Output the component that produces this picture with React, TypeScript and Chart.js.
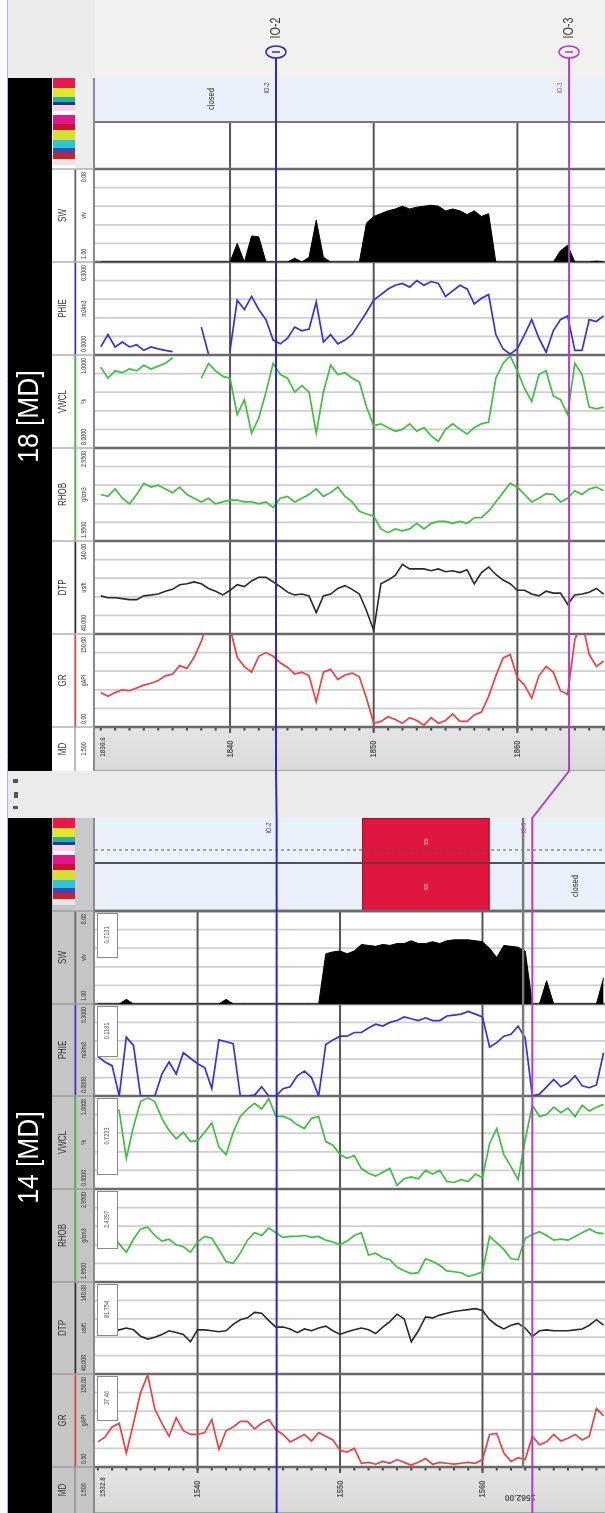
import React, { useEffect, useRef } from "react";
import { Chart, registerables } from "chart.js";

Chart.register(...registerables);

// ------------------------------------------------------------------ data
const DEPTH_18 = [
  1831, 1831.5, 1832, 1832.5, 1833, 1833.5, 1834, 1834.5, 1835, 1835.5,
  1836, 1836.5, 1837, 1837.5, 1838, 1838.5, 1839, 1839.5, 1840, 1840.5,
  1841, 1841.5, 1842, 1842.5, 1843, 1843.5, 1844, 1844.5, 1845, 1845.5,
  1846, 1846.5, 1847, 1847.5, 1848, 1848.5, 1849, 1849.5, 1850, 1850.5,
  1851, 1851.5, 1852, 1852.5, 1853, 1853.5, 1854, 1854.5, 1855, 1855.5,
  1856, 1856.5, 1857, 1857.5, 1858, 1858.5, 1859, 1859.5, 1860, 1860.5,
  1861, 1861.5, 1862, 1862.5, 1863, 1863.5, 1864, 1864.5, 1865, 1865.5,
  1866,
];
const GR_18 = [
  55.5, 49.5, 55.5, 60, 58.5, 63, 67.5, 70.5, 75, 82.5,
  85.5, 99, 94.5, 112.5, 138, 175, 180, 175, 160, 112.5,
  97.5, 88.5, 114, 120, 114, 103.5, 96, 85.5, 88.5, 82.5,
  40.5, 88.5, 93, 76.5, 84, 87, 81, 46.5, 6, 9,
  16.5, 12, 6, 15, 10.5, 3, 15, 6, 10.5, 21,
  9, 9, 19.5, 24, 49.5, 82.5, 111, 117, 79.5, 67.5,
  46.5, 82.5, 97.5, 88.5, 58.5, 52.5, 141, 170, 117, 97.5,
  106.5,
];
const DTP_18 = [
  81, 79, 79, 78, 77, 77, 81, 82, 83, 86,
  88, 93, 94, 96, 94, 89, 86, 82, 87, 93,
  91, 97, 101, 101, 96, 91, 85, 82, 83, 81,
  63, 81, 83, 89, 92, 88, 83, 65, 44, 94,
  98, 103, 115, 110, 110, 110, 108, 110, 107, 108,
  106, 109, 94, 106, 112, 104, 98, 94, 87, 87,
  83, 81, 86, 84, 84, 72, 82, 83, 85, 89,
  83,
];
const RHOB_18 = [
  2.45, 2.43, 2.51, 2.41, 2.35, 2.45, 2.57, 2.53, 2.55, 2.51,
  2.47, 2.53, 2.45, 2.41, 2.37, 2.41, 2.35, 2.37, 2.39, 2.39,
  2.37, 2.37, 2.35, 2.37, 2.31, 2.41, 2.43, 2.37, 2.41, 2.45,
  2.51, 2.43, 2.47, 2.53, 2.43, 2.37, 2.27, 2.24, 2.22, 2.08,
  2.04, 2.08, 2.06, 2.08, 2.14, 2.08, 2.14, 2.16, 2.16, 2.14,
  2.16, 2.14, 2.2, 2.2, 2.27, 2.37, 2.47, 2.57, 2.53, 2.45,
  2.37, 2.41, 2.46, 2.45, 2.37, 2.41, 2.49, 2.45, 2.51, 2.53,
  2.49,
];
const VWCL_18 = [
  0.87, 0.75, 0.83, 0.81, 0.85, 0.83, 0.89, 0.85, 0.88, 0.91,
  0.97, null, null, null, 0.75, 0.91, 0.83, 0.77, 0.75, 0.36,
  0.52, 0.16, 0.32, 0.6, 0.91, 0.79, 0.75, 0.6, 0.67, 0.6,
  0.16, 0.6, 0.89, 0.79, 0.81, 0.75, 0.71, 0.44, 0.24, 0.26,
  0.22, 0.18, 0.2, 0.26, 0.18, 0.22, 0.13, 0.07, 0.2, 0.26,
  0.2, 0.15, 0.22, 0.26, 0.28, 0.75, 0.91, 0.99, 0.83, 0.64,
  0.5, 0.79, 0.83, 0.56, 0.52, 0.36, 0.91, 0.79, 0.44, 0.42,
  0.44,
];
const PHIE_18 = [
  0.026, 0.066, 0.026, 0.042, 0.026, 0.033, 0.015, 0.026, 0.02, 0.015,
  0.011, null, null, null, 0.09, 0.003, null, null, 0.015, 0.177,
  0.147, 0.189, 0.147, 0.114, 0.048, 0.036, 0.054, 0.09, 0.078, 0.084,
  0.171, 0.042, 0.066, 0.036, 0.048, 0.066, 0.102, 0.138, 0.177, 0.195,
  0.213, 0.225, 0.231, 0.219, 0.24, 0.225, 0.237, 0.231, 0.189, 0.207,
  0.225, 0.213, 0.165, 0.183, 0.195, 0.066, 0.02, 0.003, 0.02, 0.066,
  0.114, 0.054, 0.009, 0.078, 0.114, 0.126, 0.015, 0.015, 0.114, 0.108,
  0.126,
];
const SW_18 = [
  1, 1, 1, 1, 1, 1, 1, 1, 1, 1,
  1, 1, 1, 1, 1, 1, 1, 1, 1, 0.8,
  1, 0.72, 0.73, 1, 1, 1, 1, 0.96, 1, 0.95,
  0.55, 0.95, 1, 1, 1, 1, 1, 0.58, 0.51, 0.48,
  0.45, 0.43, 0.4, 0.43, 0.41, 0.4, 0.39, 0.4, 0.45, 0.43,
  0.45, 0.49, 0.45, 0.51, 0.48, 1, 1, 1, 1, 1,
  1, 1, 1, 1, 0.88, 0.82, 1, 1, 1, 0.99,
  1,
];

const DEPTH_14 = [
  1533, 1533.5, 1534, 1534.5, 1535, 1535.5, 1536, 1536.5, 1537, 1537.5,
  1538, 1538.5, 1539, 1539.5, 1540, 1540.5, 1541, 1541.5, 1542, 1542.5,
  1543, 1543.5, 1544, 1544.5, 1545, 1545.5, 1546, 1546.5, 1547, 1547.5,
  1548, 1548.5, 1549, 1549.5, 1550, 1550.5, 1551, 1551.5, 1552, 1552.5,
  1553, 1553.5, 1554, 1554.5, 1555, 1555.5, 1556, 1556.5, 1557, 1557.5,
  1558, 1558.5, 1559, 1559.5, 1560, 1560.5, 1561, 1561.5, 1562, 1562.5,
  1563, 1563.5, 1564, 1564.5, 1565, 1565.5, 1566, 1566.5, 1567, 1567.5,
  1568, 1568.5,
];
const GR_14 = [
  40.5, 48, 64.5, 70.5, 22.5, 70.5, 120, 148.5, 93, 70.5,
  49.5, 79.5, 58.5, 52.5, 52.5, 55.5, 76.5, 28.5, 58.5, 64.5,
  73.5, 73.5, 61.5, 70.5, 76.5, 60, 52.5, 40.5, 46.5, 52.5,
  42, 55.5, 49.5, 43.5, 27, 24, 30, 6, 7.5, 4.5,
  9, 6, 12, 7.5, 3, 7.5, 13.5, 4.5, 7.5, 6,
  4.5, 6, 7.5, 6, 12, 52.5, 54, 22.5, 9, 15,
  12, 49.5, 36, 40.5, 52.5, 42, 46.5, 52.5, 43.5, 49.5,
  94.5, 82.5,
];
const DTP_14 = [
  89, 89, 88, 88, 90, 88, 81, 78, 80, 83,
  87, 85, 83, 75, 88, 88, 87, 86, 87, 94,
  99, 101, 107, 106, 98, 91, 91, 89, 85, 89,
  87, 90, 92, 87, 83, 86, 88, 90, 88, 84,
  91, 97, 105, 100, 75, 87, 102, 101, 104, 106,
  108, 109, 110, 111, 109, 99, 93, 89, 93, 95,
  90, 81, 87, 88, 87, 87, 87, 88, 89, 93,
  99, 93,
];
const RHOB_14 = [
  2.5, 2.49, 2.47, 2.36, 2.27, 2.41, 2.52, 2.54, 2.45, 2.39,
  2.41, 2.35, 2.33, 2.27, 2.38, 2.44, 2.42, 2.3, 2.17, 2.15,
  2.26, 2.4, 2.48, 2.45, 2.53, 2.48, 2.43, 2.44, 2.44, 2.45,
  2.43, 2.44, 2.4, 2.38, 2.35, 2.39, 2.45, 2.48, 2.24, 2.26,
  2.21, 2.19, 2.11, 2.07, 2.04, 2.05, 2.2, 2.17, 2.13, 2.07,
  2.06, 2.05, 2.01, 2.03, 2.06, 2.44, 2.37, 2.3, 2.2, 2.19,
  2.42, 2.46, 2.49, 2.45, 2.4, 2.41, 2.4, 2.44, 2.48, 2.52,
  2.48, 2.47,
];
const VWCL_14 = [
  0.92, 0.92, 0.9, 0.84, 0.33, 0.67, 0.94, 0.98, 0.94, 0.76,
  0.63, 0.54, 0.61, 0.51, 0.52, 0.61, 0.71, 0.45, 0.37, 0.61,
  0.78, 0.86, 0.92, 0.86, 0.97, 0.78, 0.78, 0.75, 0.69, 0.65,
  0.76, 0.78, 0.51, 0.47, 0.37, 0.33, 0.36, 0.22, 0.17, 0.14,
  0.18, 0.22, 0.04, 0.11, 0.13, 0.11, 0.2, 0.16, 0.2, 0.08,
  0.07, 0.1, 0.08, 0.16, 0.12, 0.49, 0.65, 0.37, 0.24, 0.1,
  0.53, 0.9, 0.78, 0.8, 0.88, 0.82, 0.87, 0.78, 0.9, 0.84,
  0.88, 0.91,
];
const PHIE_14 = [
  0.129, 0.111, 0.099, 0, 0.192, 0.165, 0, 0, 0, 0.072,
  0.111, 0.072, 0.141, 0.123, 0.105, 0.093, 0.024, 0.183, 0.177, 0.171,
  0, 0, 0.003, 0.03, 0, 0, 0.024, 0.03, 0.066, 0.081,
  0.06, 0, 0.168, 0.183, 0.195, 0.195, 0.207, 0.207, 0.222, 0.234,
  0.228, 0.24, 0.246, 0.258, 0.252, 0.246, 0.255, 0.246, 0.246, 0.261,
  0.264, 0.267, 0.276, 0.267, 0.258, 0.159, 0.174, 0.195, 0.201, 0.228,
  0.189, 0, 0.006, 0.03, 0.054, 0.03, 0.042, 0.066, 0.033, 0.027,
  0.036, 0.141,
];
const SW_14 = [
  1, 1, 1, 1, 0.95, 1, 1, 1, 1, 1,
  1, 1, 1, 1, 1, 1, 1, 1, 0.95, 1,
  1, 1, 1, 1, 1, 1, 1, 1, 1, 1,
  1, 1, 0.46, 0.44, 0.43, 0.46, 0.43, 0.36, 0.37, 0.38,
  0.36, 0.37, 0.35, 0.35, 0.32, 0.35, 0.35, 0.33, 0.35, 0.32,
  0.31, 0.31, 0.31, 0.32, 0.33, 0.4, 0.5, 0.37, 0.38, 0.39,
  0.43, 1, 1, 0.75, 1, 1, 1, 1, 1, 1,
  1, 0.72,
];

// depth tick labels (10 m) and view tops
const MD_TICKS_18 = [1840, 1850, 1860];
const MD_TICKS_14 = [1540, 1550, 1560];
const VIEW_TOP_LABEL_18 = "1830.6";
const VIEW_TOP_LABEL_14 = "1532.8";

// correlation tops
const TOP_NAMES = ["IO-2", "IO-3"];
const TOP_DEPTH_18 = [1843.2, 1863.6];
const TOP_DEPTH_14 = [1545.55, 1563.5];

// zones / flags
const ZONE_TOP_14 = [1551.55];
const ZONE_BASE_14 = [1560.5];
const ZONE_LABEL_14 = ["ss"];
const CLOSED_DEPTH_18 = 1838.7;
const CLOSED_DEPTH_14 = 1566.5;
const MARK_DEPTH_14 = 1562.85;
const MARK_LABEL_14 = "1562.00";

// readout values shown in well 14 boxes
const READOUT_14 = ["0.7131", "0.1181", "0.7233", "2.4397", "81.754", "37.46"];

// ------------------------------------------------------------------ styling / layout
const CANVAS_W = 605;
const CANVAS_H = 1513;
const PLOT_L = 95;
const PLOT_R = 605;
const FONT = '"Liberation Sans", Arial, sans-serif';

type Curve = {
  name: string; color: string; width: number; min: number; max: number;
  reverse?: boolean; lo: string; unit: string; hi: string;
};
const CURVES: Curve[] = [
  { name: "SW", color: "#000000", width: 1, min: 0, max: 1, reverse: true, lo: "1.00", unit: "v/v", hi: "0.00" },
  { name: "PHIE", color: "#3333dd", width: 1.7, min: 0, max: 0.3, lo: "0.0000", unit: "m3/m3", hi: "0.3000" },
  { name: "VWCL", color: "#3fbf3f", width: 1.7, min: 0, max: 1, lo: "0.0000", unit: "%", hi: "1.0000" },
  { name: "RHOB", color: "#3fbf3f", width: 1.7, min: 1.95, max: 2.95, lo: "1.9500", unit: "g/cm3", hi: "2.9500" },
  { name: "DTP", color: "#2a2a2a", width: 1.6, min: 40, max: 140, lo: "40.000", unit: "us/ft", hi: "140.00" },
  { name: "GR", color: "#ee4040", width: 1.7, min: 0, max: 150, lo: "0.00", unit: "gAPI", hi: "150.00" },
];

type WellLayout = {
  key: string; title: string; barTop: number; barBottom: number;
  flag1: [number, number]; flag2: [number, number]; tracks: number[];
  md: [number, number]; gridTop: number; headerBg: string; flag2Bg: string;
  xMin: number; xMax: number; ticks: number[]; topLabel: string;
};
const WELLS: WellLayout[] = [
  {
    key: "w18", title: "18 [MD]", barTop: 78, barBottom: 771,
    flag1: [78, 122], flag2: [122, 169], tracks: [169, 262, 355, 448, 541, 634, 727],
    md: [727, 771], gridTop: 122, headerBg: "#ffffff", flag2Bg: "#ffffff",
    xMin: 1830.6, xMax: 1866.1, ticks: MD_TICKS_18, topLabel: VIEW_TOP_LABEL_18,
  },
  {
    key: "w14", title: "14 [MD]", barTop: 818, barBottom: 1513,
    flag1: [818, 863], flag2: [863, 911], tracks: [911, 1004, 1096, 1189, 1282, 1374, 1467],
    md: [1467, 1513], gridTop: 911, headerBg: "#c5c5c5", flag2Bg: "#eaf1fa",
    xMin: 1532.8, xMax: 1568.6, ticks: MD_TICKS_14, topLabel: VIEW_TOP_LABEL_14,
  },
];

const SERIES: Record<string, Record<string, (number | null)[]>> = {
  w18: { SW: SW_18, PHIE: PHIE_18, VWCL: VWCL_18, RHOB: RHOB_18, DTP: DTP_18, GR: GR_18 },
  w14: { SW: SW_14, PHIE: PHIE_14, VWCL: VWCL_14, RHOB: RHOB_14, DTP: DTP_14, GR: GR_14 },
};
const DEPTHS: Record<string, number[]> = { w18: DEPTH_18, w14: DEPTH_14 };

const COLOR_STRIP: [string, number][] = [
  ["#e8184a", 10], ["#e6e628", 9], ["#22b3a4", 5], ["#1a3a8a", 3], ["#f5d5e5", 6], ["#ffffff", 4],
  ["#e0168e", 9], ["#cc1030", 6], ["#d2e034", 10], ["#2ec4d6", 8], ["#2f4fc0", 5], ["#d02020", 6], ["#e6e6e6", 6],
];

const BLUE = "#2b2bb5";
const MAGENTA = "#b43cc8";
const TOP_COLORS = [BLUE, MAGENTA];

// scale bounds (pixel rows) for every track axis
const BOUNDS: Record<string, [number, number]> = {};
WELLS.forEach((w) => {
  CURVES.forEach((c, i) => {
    BOUNDS[`${w.key}_${c.name}`] = [w.tracks[i], w.tracks[i + 1]];
  });
});

// ------------------------------------------------------------------ drawing helpers
function rotText(
  ctx: CanvasRenderingContext2D, text: string, x: number, y: number,
  o: { size: number; color: string; bold?: boolean; squeeze?: number; align?: CanvasTextAlign; angle?: number }
) {
  ctx.save();
  ctx.translate(x, y);
  ctx.rotate(o.angle ?? -Math.PI / 2);
  ctx.scale(o.squeeze ?? 1, 1);
  ctx.font = `${o.bold ? "bold " : ""}${o.size}px ${FONT}`;
  ctx.fillStyle = o.color;
  ctx.textAlign = o.align ?? "center";
  ctx.textBaseline = "middle";
  ctx.fillText(text, 0, 0);
  ctx.restore();
}
function hline(ctx: CanvasRenderingContext2D, y: number, x0: number, x1: number, color: string, w: number, dash?: number[]) {
  ctx.save();
  ctx.strokeStyle = color;
  ctx.lineWidth = w;
  if (dash) ctx.setLineDash(dash);
  ctx.beginPath();
  ctx.moveTo(x0, y);
  ctx.lineTo(x1, y);
  ctx.stroke();
  ctx.restore();
}
function vline(ctx: CanvasRenderingContext2D, x: number, y0: number, y1: number, color: string, w: number) {
  ctx.save();
  ctx.strokeStyle = color;
  ctx.lineWidth = w;
  ctx.beginPath();
  ctx.moveTo(x, y0);
  ctx.lineTo(x, y1);
  ctx.stroke();
  ctx.restore();
}

const placeScales = {
  id: "placeScales",
  afterLayout(chart: any) {
    Object.keys(chart.scales).forEach((id) => {
      const s = chart.scales[id];
      if (s.isHorizontal()) {
        s.left = PLOT_L; s.right = PLOT_R; s.width = PLOT_R - PLOT_L;
        s.top = 0; s.bottom = 0; s.height = 0;
      } else {
        const b = BOUNDS[id];
        if (!b) return;
        s.top = b[0]; s.bottom = b[1]; s.height = b[1] - b[0];
        s.left = PLOT_L; s.right = PLOT_L; s.width = 0;
      }
      s.configure();
    });
  },
};

const decorations = {
  id: "decorations",
  beforeDatasetsDraw(chart: any) {
    const ctx: CanvasRenderingContext2D = chart.ctx;
    ctx.save();
    // page background
    ctx.fillStyle = "#efefef";
    ctx.fillRect(0, 0, CANVAS_W, CANVAS_H);
    ctx.fillStyle = "#fbfbfb";
    ctx.fillRect(0, 0, 8, CANVAS_H);
    vline(ctx, 7.5, 0, CANVAS_H, "#a9b5c9", 1);
    // top band
    ctx.fillStyle = "#f2f1ef";
    ctx.fillRect(PLOT_L, 0, PLOT_R - PLOT_L, 78);
    ctx.fillStyle = "#ececec";
    ctx.fillRect(8, 0, PLOT_L - 8, 78);
    // gap between wells
    ctx.fillStyle = "#ebebeb";
    ctx.fillRect(8, 771, CANVAS_W - 8, 47);
    ctx.fillStyle = "#555";
    ctx.fillRect(13, 779, 5, 4);
    ctx.fillRect(14, 792, 4, 6);
    ctx.fillRect(13, 806, 5, 3);

    WELLS.forEach((w) => {
      const xs = chart.scales[`x_${w.key}`];
      // black title bar
      ctx.fillStyle = "#000";
      ctx.fillRect(8, w.barTop, 44, w.barBottom - w.barTop);
      rotText(ctx, w.title, 30, (w.barTop + w.barBottom) / 2 - 8, { size: 30, color: "#fff", squeeze: 0.88 });
      // header columns
      ctx.fillStyle = w.headerBg;
      ctx.fillRect(52, w.barTop, PLOT_L - 52, w.barBottom - w.barTop);
      ctx.fillStyle = w.key === "w18" ? "#eeeeee" : "#c9c9c9";
      ctx.fillRect(75, w.barTop, 18, w.flag2[1] - w.barTop);
      let yy = w.barTop;
      COLOR_STRIP.forEach(([c, h]) => {
        ctx.fillStyle = c;
        ctx.fillRect(53, yy, 22, h);
        yy += h;
      });
      vline(ctx, 94, w.barTop, w.barBottom, "#8a8a8a", 2);
      vline(ctx, 75, w.flag2[1], w.barBottom, "#777", 1);
      // flags
      ctx.fillStyle = "#eaf1fa";
      ctx.fillRect(PLOT_L, w.flag1[0], PLOT_R - PLOT_L, w.flag1[1] - w.flag1[0]);
      ctx.fillStyle = w.flag2Bg;
      ctx.fillRect(PLOT_L, w.flag2[0], PLOT_R - PLOT_L, w.flag2[1] - w.flag2[0]);
      // log tracks
      ctx.fillStyle = "#ffffff";
      ctx.fillRect(PLOT_L, w.tracks[0], PLOT_R - PLOT_L, w.tracks[6] - w.tracks[0]);
      CURVES.forEach((c, i) => {
        const t = w.tracks[i];
        const b = w.tracks[i + 1];
        for (let k = 1; k < 5; k++) {
          const y = t + ((b - t) * k) / 5;
          hline(ctx, y, PLOT_L, PLOT_R, "#cfcfcf", 1.8);
        }
        // header text
        const mid = (t + b) / 2;
        rotText(ctx, c.name, 63, mid, { size: 10, color: "#333", squeeze: 0.8 });
        rotText(ctx, c.lo, 84, b - 3, { size: 7, color: "#333", squeeze: 0.75, align: "left" });
        rotText(ctx, c.unit, 84, mid, { size: 7, color: "#333", squeeze: 0.75 });
        rotText(ctx, c.hi, 84, t + 3, { size: 7, color: "#333", squeeze: 0.75, align: "right" });
        vline(ctx, 75.5, t + 1, b - 1, c.color === "#000000" ? "#666" : c.color, 1.5);
        hline(ctx, t, 52, PLOT_L, "#8a8a8a", 1);
      });
      // MD track
      const [m0, m1] = w.md;
      const g = ctx.createLinearGradient(0, m0, 0, m1);
      g.addColorStop(0, "#e4e4e4");
      g.addColorStop(1, "#d9d9d9");
      ctx.fillStyle = g;
      ctx.fillRect(PLOT_L, m0, PLOT_R - PLOT_L, m1 - m0);
      hline(ctx, m0, 52, PLOT_L, "#8a8a8a", 1);
      rotText(ctx, "MD", 63, (m0 + m1) / 2, { size: 10, color: "#333", squeeze: 0.8 });
      rotText(ctx, "1:500", 84, (m0 + m1) / 2, { size: 7, color: "#333", squeeze: 0.75 });
      for (let d = Math.ceil(w.xMin); d <= w.xMax; d++) {
        const x = xs.getPixelForValue(d);
        ctx.fillStyle = "#444";
        ctx.fillRect(x - 1, m0 + 1, 2, 2.5);
      }
      w.ticks.forEach((d) => {
        const x = xs.getPixelForValue(d);
        vline(ctx, x, w.gridTop, m0 + 6, "#555", 2);
        rotText(ctx, String(d), x, m0 + 22, { size: 9, color: "#555", bold: true, squeeze: 0.85 });
      });
      rotText(ctx, w.topLabel, PLOT_L + 8, m0 + 20, { size: 8, color: "#555", bold: true, squeeze: 0.8 });
      hline(ctx, m1 - 0.5, PLOT_L, PLOT_R, "#9aa", 1);
      // track boundaries
      hline(ctx, w.flag1[1], PLOT_L, PLOT_R, "#7a7a7a", 2.2);
      w.tracks.forEach((y) => hline(ctx, y, PLOT_L, PLOT_R, "#6a6a6a", 2.4));
    });
    ctx.restore();
  },
  afterDatasetsDraw(chart: any) {
    const ctx: CanvasRenderingContext2D = chart.ctx;
    const x18 = chart.scales.x_w18;
    const x14 = chart.scales.x_w14;
    ctx.save();
    const w14 = WELLS[1];

    // well 14 zone box
    ZONE_TOP_14.forEach((d0, i) => {
      const a = x14.getPixelForValue(d0);
      const b = x14.getPixelForValue(ZONE_BASE_14[i]);
      ctx.fillStyle = "#e0163e";
      ctx.fillRect(a, w14.flag1[0], b - a, w14.flag2[1] - w14.flag1[0]);
      ctx.strokeStyle = "#a01028";
      ctx.lineWidth = 1;
      ctx.strokeRect(a + 0.5, w14.flag1[0] + 0.5, b - a - 1, w14.flag2[1] - w14.flag1[0] - 1);
      rotText(ctx, ZONE_LABEL_14[i], (a + b) / 2, 842, { size: 8, color: "#f6c6d0", squeeze: 0.9 });
      rotText(ctx, ZONE_LABEL_14[i], (a + b) / 2, 887, { size: 8, color: "#f6c6d0", squeeze: 0.9 });
    });
    hline(ctx, 850, PLOT_L, PLOT_R, "#555", 1, [3, 3]);
    hline(ctx, w14.flag1[1], PLOT_L, PLOT_R, "#444", 1.6);
    hline(ctx, w14.flag2[1], PLOT_L, PLOT_R, "#6a6a6a", 2.4);

    // marker line in well 14
    const xm = x14.getPixelForValue(MARK_DEPTH_14);
    vline(ctx, xm, w14.flag1[0], w14.md[0], "#7a7a7a", 2.4);
    rotText(ctx, MARK_LABEL_14, xm - 3, 1497, { size: 9, color: "#555", bold: true, angle: Math.PI, squeeze: 0.95 });

    // closed labels
    rotText(ctx, "closed", x18.getPixelForValue(CLOSED_DEPTH_18), 99, { size: 9, color: "#222", squeeze: 0.85 });
    rotText(ctx, "closed", x14.getPixelForValue(CLOSED_DEPTH_14), 886, { size: 9, color: "#222", squeeze: 0.85 });

    // readout boxes well 14
    CURVES.forEach((c, i) => {
      const t = w14.tracks[i];
      const h = [44, 50, 76, 57, 51, 44][i];
      ctx.fillStyle = "#ffffff";
      ctx.fillRect(97, t + 2, 20, h);
      ctx.strokeStyle = "#8a8a8a";
      ctx.lineWidth = 1;
      ctx.strokeRect(97.5, t + 2.5, 20, h);
      rotText(ctx, READOUT_14[i], 107, t + 2 + h / 2, { size: 7, color: "#555", squeeze: 0.8 });
    });

    // correlation lines
    TOP_NAMES.forEach((name, i) => {
      const col = TOP_COLORS[i];
      const xa = x18.getPixelForValue(TOP_DEPTH_18[i]);
      const xb = x14.getPixelForValue(TOP_DEPTH_14[i]);
      ctx.strokeStyle = col;
      ctx.lineWidth = 2;
      ctx.beginPath();
      ctx.moveTo(xa, 58);
      ctx.lineTo(xa, 771);
      ctx.lineTo(xb, 818);
      ctx.lineTo(xb, CANVAS_H);
      ctx.stroke();
      // header marker
      ctx.lineWidth = 1.5;
      ctx.beginPath();
      ctx.ellipse(xa, 52, 10, 6, 0, 0, Math.PI * 2);
      ctx.stroke();
      ctx.beginPath();
      ctx.moveTo(xa - 4, 52);
      ctx.lineTo(xa + 4, 52);
      ctx.stroke();
      rotText(ctx, name, xa, 28, { size: 15, color: "#3a3a3a", squeeze: 0.72 });
      rotText(ctx, name, xa - 9, 88, { size: 7, color: col, squeeze: 0.8 });
      rotText(ctx, name, xb - 8, 828, { size: 7, color: col, squeeze: 0.8 });
    });
    ctx.restore();
  },
};

function buildConfig(): any {
  const datasets: any[] = [];
  const scales: any = {};
  WELLS.forEach((w) => {
    scales[`x_${w.key}`] = { type: "linear", axis: "x", position: "bottom", min: w.xMin, max: w.xMax, display: false };
    CURVES.forEach((c) => {
      const id = `${w.key}_${c.name}`;
      scales[id] = { type: "linear", axis: "y", position: "left", min: c.min, max: c.max, reverse: !!c.reverse, display: false };
      const vals = SERIES[w.key][c.name];
      datasets.push({
        label: id,
        data: DEPTHS[w.key].map((d, i) => ({ x: d, y: vals[i] })),
        xAxisID: `x_${w.key}`,
        yAxisID: id,
        borderColor: c.color,
        backgroundColor: c.name === "SW" ? "#000000" : "transparent",
        borderWidth: c.width,
        pointRadius: 0,
        tension: 0,
        spanGaps: false,
        fill: c.name === "SW" ? { value: 1 } : false,
      });
    });
  });
  return {
    type: "line",
    data: { datasets },
    options: {
      animation: false,
      responsive: false,
      devicePixelRatio: 1,
      events: [],
      layout: { padding: 0 },
      scales,
      plugins: { legend: { display: false }, tooltip: { enabled: false }, title: { display: false } },
    },
    plugins: [placeScales, decorations],
  };
}

export default function App() {
  const ref = useRef<HTMLCanvasElement | null>(null);
  useEffect(() => {
    if (!ref.current) return;
    const chart = new Chart(ref.current, buildConfig());
    return () => chart.destroy();
  }, []);
  return (
    <div style={{ position: "absolute", left: 0, top: 0, width: CANVAS_W, height: CANVAS_H, background: "#efefef" }}>
      <canvas ref={ref} width={CANVAS_W} height={CANVAS_H} style={{ display: "block", width: CANVAS_W, height: CANVAS_H }} />
    </div>
  );
}
